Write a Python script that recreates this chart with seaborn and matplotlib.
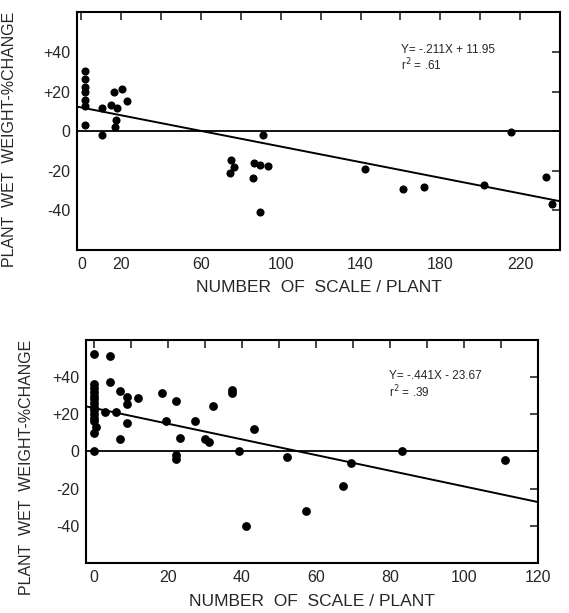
import matplotlib
matplotlib.use("Agg")
import matplotlib.pyplot as plt
import seaborn as sns
import numpy as np
import pandas as pd

# top panel: scale count vs % change in plant wet weight
top_scale = [1.7, 1.7, 1.7, 1.7, 1.7, 1.7, 1.7, 10.5, 10.2, 14.7, 16.3, 17.7, 17.5, 16.7,
             20.5, 23.0, 75.0, 76.8, 74.3, 86.8, 89.7, 93.8, 86.3, 89.7, 91.0,
             142.5, 161.3, 171.8, 201.8, 215.5, 233.0, 235.8]
top_change = [30.5, 26.5, 22.5, 20.0, 15.5, 12.5, 3.0, 11.5, -1.8, 13.2, 20.0, 11.5, 5.8, 2.3,
              21.5, 15.3, -14.7, -18.0, -21.0, -16.3, -17.2, -17.5, -23.8, -40.7, -1.8,
              -19.2, -29.2, -28.3, -27.2, -0.2, -23.0, -36.7]
top_fit = (11.95, -0.197)  # intercept, slope as drawn
top_eq = "Y= -.211X + 11.95"
top_r2 = "r$^2$ = .61"

# bottom panel
bot_scale = [0, 4.3, 4.3, 0, 0, 0, 0, 0, 0, 0, 0, 0, 0, 0, 0.6, 0, 0,
             2.9, 6.1, 7.0, 9.0, 9.0, 11.9, 9.0, 7.0, 18.3, 19.4, 22.2, 22.2, 22.2,
             23.4, 27.3, 30.1, 31.2, 32.2, 37.4, 37.4, 39.3, 41.1, 43.3, 52.3, 57.4,
             67.3, 69.4, 83.2, 111.2]
bot_change = [52.2, 51.2, 37.0, 36.0, 34.0, 32.0, 30.0, 28.0, 26.0, 24.0, 22.0, 20.0, 18.0, 16.5,
              13.2, 10.0, 0.0,
              21.3, 21.3, 32.2, 29.0, 25.4, 28.6, 15.3, 6.6, 31.3, 16.1, 27.2, -2.1, -4.3,
              7.2, 16.3, 6.8, 5.2, 24.3, 33.2, 31.2, 0.0, -40.0, 12.3, -3.0, -32.1,
              -18.4, -6.2, 0.0, -4.4]
bot_fit = (23.3, -0.42)
bot_eq = "Y= -.441X - 23.67"
bot_r2 = "r$^2$ = .39"

sns.set_style("white")
plt.rcParams['font.family'] = ['Liberation Sans', 'DejaVu Sans']

fig = plt.figure(figsize=(5.69, 6.13), dpi=100)
ax1 = fig.add_axes([0.136, 0.592, 0.848, 0.388])
ax2 = fig.add_axes([0.152, 0.081, 0.793, 0.365])


def draw_panel(ax, xs, ys, fit, eq, r2, xlim, xticks, xlabels, dot, txt_xy, gap):
    df = pd.DataFrame({'scale': xs, 'change': ys})
    sns.scatterplot(data=df, x='scale', y='change', ax=ax, color='black', s=dot,
                    edgecolor='black', linewidth=0, zorder=3)
    line_x = np.array(xlim)
    line_y = fit[0] + fit[1] * line_x
    sns.lineplot(x=line_x, y=line_y, ax=ax, color='black', linewidth=1.4)
    ax.axhline(0, color='black', linewidth=1.3)
    ax.set_xlim(*xlim)
    ax.set_ylim(-60, 60)
    ax.set_xticks(xticks)
    ax.set_xticklabels(xlabels)
    ax.set_yticks([-40, -20, 0, 20, 40])
    ax.set_yticklabels(['-40', '-20', '0', '+20', '+40'])
    ax.tick_params(direction='in', length=6, width=1.2, top=True, right=True,
                   labelsize=11.5, pad=5)
    for sp in ax.spines.values():
        sp.set_linewidth(1.5)
        sp.set_color('black')
    ax.set_xlabel('NUMBER  OF  SCALE / PLANT', fontsize=12.5, labelpad=6)
    ax.set_ylabel('PLANT  WET  WEIGHT-%CHANGE', fontsize=11.5)
    ax.text(txt_xy[0], txt_xy[1], eq, transform=ax.transAxes, fontsize=8.5)
    ax.text(txt_xy[0], txt_xy[1] - gap, r2, transform=ax.transAxes, fontsize=8.5)


draw_panel(ax1, top_scale, top_change, top_fit, top_eq, top_r2, (-2, 240),
           list(range(0, 241, 20)),
           ['0', '20', '', '60', '', '100', '', '140', '', '180', '', '220', ''],
           34, (0.67, 0.83), 0.072)
draw_panel(ax2, bot_scale, bot_change, bot_fit, bot_eq, bot_r2, (-2, 120),
           list(range(0, 121, 10)),
           ['0', '', '20', '', '40', '', '60', '', '80', '', '100', '', '120'],
           40, (0.67, 0.825), 0.085)

ax1.yaxis.set_label_coords(-0.125, 0.465)
ax2.yaxis.set_label_coords(-0.117, 0.43)

fig.savefig('out.png', dpi=100)
